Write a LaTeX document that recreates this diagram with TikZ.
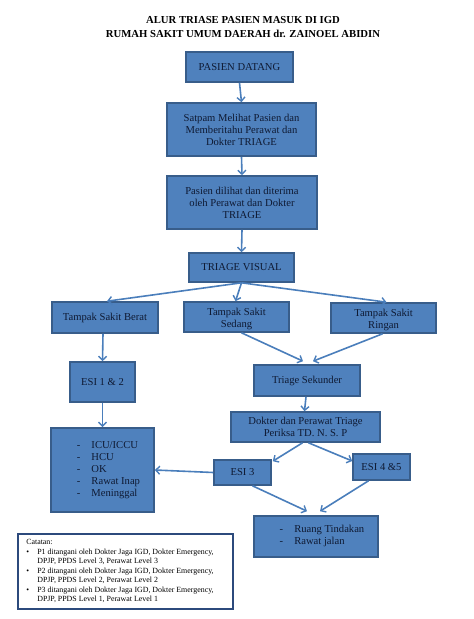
\documentclass[tikz,border=0pt]{standalone}
\usepackage{fontspec}
\setmainfont{Liberation Serif}
\usetikzlibrary{arrows.meta,calc}
\definecolor{boxfill}{HTML}{4F81BD}
\definecolor{boxline}{HTML}{385D8A}
\definecolor{arrowc}{HTML}{4A7EBB}
\definecolor{txt}{HTML}{0F1A33}
\definecolor{notec}{HTML}{2C4A7C}
\tikzset{
  box/.style={draw=boxline, line width=1.6pt, fill=boxfill, text=txt, align=center,
    inner sep=1pt, font=\fontsize{10.6}{12}\selectfont},
  flow/.style={draw=arrowc, line width=1.6pt, -{Straight Barb[length=4pt,width=8pt,line width=1.4pt]}},
}
\begin{document}
\begin{tikzpicture}[x=1pt,y=-1pt]
\useasboundingbox (0,0) rectangle (474,619);
% title
\node[font=\bfseries\fontsize{10.7}{14}\selectfont, align=center] (title) at (243,27)
  {ALUR TRIASE PASIEN MASUK DI IGD\\RUMAH SAKIT UMUM DAERAH dr. ZAINOEL ABIDIN};
% boxes
\node[box, minimum width=107pt, minimum height=30pt] (pd) at (239.5,67) {PASIEN DATANG};
\node[box, minimum width=149pt, minimum height=53pt] (satpam) at (241.5,129.5)
  {Satpam Melihat Pasien dan\\Memberitahu Perawat dan\\Dokter TRIAGE};
\node[box, minimum width=150pt, minimum height=53pt] (dilihat) at (242,202.5)
  {Pasien dilihat dan diterima\\oleh Perawat dan Dokter\\TRIAGE};
\node[box, minimum width=105pt, minimum height=29pt] (tv) at (241.5,267.5) {TRIAGE VISUAL};
\node[box, minimum width=106pt, minimum height=31pt] (berat) at (105,317.5) {Tampak Sakit Berat};
\node[box, minimum width=105pt, minimum height=30pt] (sedang) at (236.5,317)
  {\raisebox{-5pt}[0pt][0pt]{\begin{tabular}{@{}c@{}}Tampak Sakit\\Sedang\end{tabular}}};
\node[box, minimum width=105pt, minimum height=30pt] (ringan) at (383.5,318)
  {\raisebox{-5pt}[0pt][0pt]{\begin{tabular}{@{}c@{}}Tampak Sakit\\Ringan\end{tabular}}};
\node[box, minimum width=65pt, minimum height=40pt] (esi12) at (102.5,382) {ESI 1 \& 2};
\node[box, minimum width=106pt, minimum height=31pt] (sekunder) at (307,380.5) {Triage Sekunder};
\node[box, minimum width=149pt, minimum height=30pt] (dokter) at (305.5,427)
  {Dokter dan Perawat Triage\\Periksa TD. N. S. P};
\node[box, minimum width=103pt, minimum height=84pt] (icu) at (102.5,470)
  {\hspace*{12pt}\begin{tabular}{@{}l@{\hspace{11pt}}l@{}}
   -&ICU/ICCU\\ -&HCU\\ -&OK\\ -&Rawat Inap\\ -&Meninggal\end{tabular}};
\node[box, minimum width=57pt, minimum height=25pt] (esi3) at (242.5,472.5) {ESI 3};
\node[box, minimum width=57pt, minimum height=26pt] (esi45) at (381.5,467) {ESI 4 \&5};
\node[box, minimum width=124pt, minimum height=41pt] (ruang) at (316,536.5)
  {\hspace*{12pt}\begin{tabular}{@{}l@{\hspace{11pt}}l@{}}
   -&Ruang Tindakan\\ -&Rawat jalan\end{tabular}};
\node[draw=notec, line width=1.6pt, fill=white, minimum width=215pt, minimum height=75pt,
  inner sep=0pt, font=\fontsize{7.9}{9.5}\selectfont] (catatan) at (125.5,571.5)
  {\begin{tabular}{@{}p{11pt}@{}l@{}}
   \multicolumn{2}{@{}l@{}}{Catatan:}\\
   \textbullet & P1 ditangani oleh Dokter Jaga IGD, Dokter Emergency,\\
   & DPJP, PPDS Level 3, Perawat Level 3\\
   \textbullet & P2 ditangani oleh Dokter Jaga IGD, Dokter Emergency,\\
   & DPJP, PPDS Level 2, Perawat Level 2\\
   \textbullet & P3 ditangani oleh Dokter Jaga IGD, Dokter Emergency,\\
   & DPJP, PPDS Level 1, Perawat Level 1
  \end{tabular}\hspace*{11pt}};
% connectors
\draw[flow] (pd.south) -- (satpam.north);
\draw[flow] (satpam.south) -- (dilihat.north);
\draw[flow] (dilihat.south) -- (tv.north);
\draw[flow] (tv.south) -- ([xshift=2pt]berat.north);
\draw[flow] (tv.south) -- ([xshift=-1pt]sedang.north);
\draw[flow] (tv.south) -- ([xshift=3pt]ringan.north);
\draw[flow] ([xshift=-2pt]berat.south) -- (esi12.north);
\draw[flow] ([xshift=5pt]sedang.south) -- ([xshift=-4pt,yshift=3pt]sekunder.north);
\draw[flow] ([xshift=-1pt]ringan.south) -- ([xshift=6pt,yshift=3pt]sekunder.north);
\draw[flow] ([xshift=-1pt]sekunder.south) -- ([xshift=-1pt]dokter.north);
\draw[flow] (esi12.south) -- (icu.north);
\draw[flow] ([xshift=-3pt]dokter.south) -- ([xshift=1pt,yshift=-2pt]esi3.north east);
\draw[flow] ([xshift=3pt]dokter.south) -- ([yshift=6pt]esi45.west);
\draw[flow] (esi3.west) -- (icu.east);
\draw[flow] ([xshift=10pt]esi3.south) -- ([xshift=-9pt,yshift=4pt]ruang.north);
\draw[flow] ([xshift=-13pt]esi45.south) -- ([xshift=4pt,yshift=4pt]ruang.north);
\end{tikzpicture}
\end{document}
